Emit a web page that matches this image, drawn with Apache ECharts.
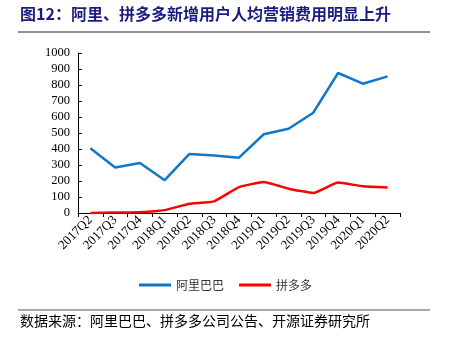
<!DOCTYPE html>
<html><head><meta charset="utf-8">
<script src="https://cdn.jsdelivr.net/npm/echarts@6/dist/echarts.min.js"></script>
<style>html,body{margin:0;padding:0;background:#fff}#c{width:451px;height:354px}</style>
</head><body><div id="c"></div>
<script>
var categories = ['2017Q2','2017Q3','2017Q4','2018Q1','2018Q2','2018Q3','2018Q4','2019Q1','2019Q2','2019Q3','2019Q4','2020Q1','2020Q2'];
var alibaba = [405, 285, 313, 205, 369, 360, 346, 492, 527, 627, 875, 808, 854];
var pdd = [0, 3, 5, 18, 58, 73, 162, 194, 152, 125, 190, 167, 160];
var yTicks = [0, 100, 200, 300, 400, 500, 600, 700, 800, 900, 1000];
var titleText = '图12：阿里、拼多多新增用户人均营销费用明显上升';
var sourceText = '数据来源：阿里巴巴、拼多多公司公告、开源证券研究所';
var cjk = '"Noto Sans CJK SC", sans-serif';
var serif = '"Liberation Serif", "DejaVu Serif", serif';
var chart = echarts.init(document.getElementById('c'));
chart.setOption({
  animation: false,
  backgroundColor: '#fff',
  grid: {left: 78, right: 51, top: 53, bottom: 141, containLabel: false},
  xAxis: {
    type: 'category', data: categories, boundaryGap: true,
    axisLine: {lineStyle: {color: '#000', width: 1}},
    axisTick: {show: true, length: 4, inside: false, lineStyle: {color: '#000'}},
    axisLabel: {rotate: 45, color: '#000', fontFamily: serif, fontSize: 13, margin: 5, interval: 0}
  },
  yAxis: {
    type: 'value', min: yTicks[0], max: yTicks[yTicks.length-1], interval: 100,
    axisLine: {show: true, lineStyle: {color: '#000', width: 1}},
    axisTick: {show: true, length: 4, inside: true, lineStyle: {color: '#000'}},
    splitLine: {show: false},
    axisLabel: {color: '#000', fontFamily: serif, fontSize: 12.5, margin: 8, formatter: function (v) { return String(v); }}
  },
  legend: {
    top: 274, left: 'center', itemGap: 15, itemWidth: 32, itemHeight: 3,
    icon: 'rect',
    textStyle: {fontFamily: cjk, fontSize: 12, color: '#333'},
    data: ['阿里巴巴', '拼多多']
  },
  series: [
    {name: '阿里巴巴', type: 'line', data: alibaba, symbol: 'none', lineStyle: {color: '#1177C8', width: 2.5}, itemStyle: {color: '#1177C8'}},
    {name: '拼多多', type: 'line', data: pdd, symbol: 'none', smooth: 0.12, lineStyle: {color: '#FF0000', width: 2.5}, itemStyle: {color: '#FF0000'}}
  ],
  graphic: [
    {type: 'text', left: 20, top: 6, style: {text: titleText, fontFamily: cjk, fontSize: 16, fontWeight: 'bold', fill: '#1C1C80'}},
    {type: 'line', shape: {x1: 18, y1: 32, x2: 430, y2: 32}, style: {stroke: '#222', lineWidth: 1}},
    {type: 'line', shape: {x1: 18, y1: 310, x2: 430, y2: 310}, style: {stroke: '#888', lineWidth: 1.5}},
    {type: 'text', left: 20, top: 314, style: {text: sourceText, fontFamily: cjk, fontSize: 14, fill: '#000'}}
  ]
});
</script></body></html>
